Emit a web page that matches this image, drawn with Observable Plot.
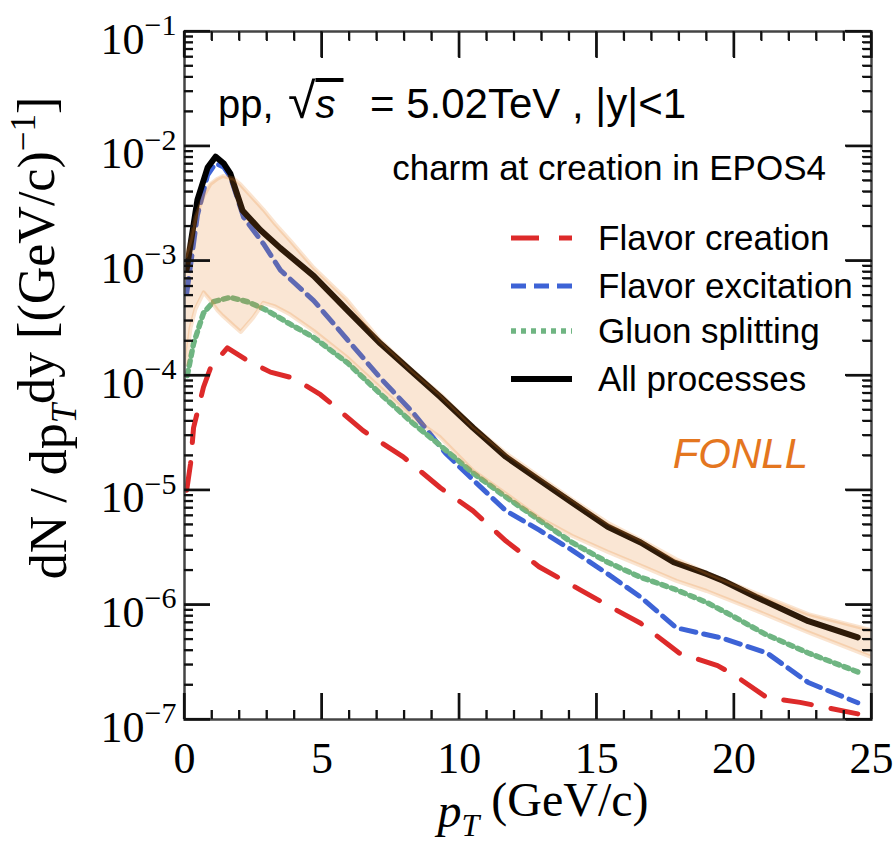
<!DOCTYPE html>
<html><head><meta charset="utf-8">
<script src="https://cdn.jsdelivr.net/npm/d3@7"></script>
<script src="https://cdn.jsdelivr.net/npm/@observablehq/plot@0.6"></script>
<style>
html,body{margin:0;padding:0;background:#fff;overflow:hidden;}
#chart{width:894px;height:849px;position:relative;}
</style></head><body><div id="chart"></div>
<script>
// ---- data ----
const ptCreation = [0.08, 0.22, 0.33, 0.69, 0.95, 1.56, 2.29, 3.13, 3.96, 4.95, 5.3, 6.5, 7.96, 9.31, 10.5, 11.7, 12.9, 14.4, 15.9, 16.6, 17.6, 18.0, 19.4, 20.0, 21.2, 22.4, 24.5];
const valCreation = [1.0e-5, 1.7e-5, 3.5e-5, 7.9e-5, 1.17e-4, 1.74e-4, 1.35e-4, 1.07e-4, 9.5e-5, 6.8e-5, 5.8e-5, 3.3e-5, 1.95e-5, 1.05e-5, 6.6e-6, 3.6e-6, 2.15e-6, 1.35e-6, 8.5e-7, 6.9e-7, 4.5e-7, 3.8e-7, 2.95e-7, 2.45e-7, 1.55e-7, 1.41e-7, 1.12e-7];

const ptExcitation = [0.08, 0.47, 0.84, 1.13, 1.42, 1.67, 2.15, 2.87, 3.49, 4.7, 5.93, 7.13, 8.33, 9.5, 10.5, 11.7, 12.9, 14.1, 15.4, 16.6, 17.9, 19.6, 21.2, 22.7, 24.5];
const valExcitation = [5.2e-4, 2.5e-3, 5.6e-3, 7.1e-3, 6.6e-3, 5.4e-3, 2.4e-3, 1.41e-3, 8.3e-4, 4.5e-4, 2.05e-4, 9.5e-5, 4.7e-5, 2.1e-5, 1.23e-5, 6.6e-6, 4.5e-6, 3.0e-6, 1.86e-6, 1.17e-6, 6.3e-7, 5.1e-7, 3.8e-7, 2.1e-7, 1.4e-7];

const ptSplitting = [0.1, 0.33, 0.69, 1.05, 1.67, 2.29, 3.0, 3.85, 4.7, 5.93, 7.13, 8.33, 9.31, 10.5, 11.7, 12.9, 14.1, 15.4, 16.6, 17.8, 19.0, 19.9, 21.1, 22.7, 24.5];
const valSplitting = [1.0e-4, 1.9e-4, 3.5e-4, 4.4e-4, 4.8e-4, 4.4e-4, 3.7e-4, 2.8e-4, 2.15e-4, 1.29e-4, 6.9e-5, 3.8e-5, 2.45e-5, 1.41e-5, 8.7e-6, 5.5e-6, 3.5e-6, 2.35e-6, 1.74e-6, 1.38e-6, 1.05e-6, 8.1e-7, 5.6e-7, 3.8e-7, 2.6e-7];

const ptAll = [0.08, 0.47, 0.84, 1.13, 1.42, 1.67, 2.11, 2.76, 3.49, 4.7, 5.93, 7.13, 8.33, 9.31, 10.5, 11.7, 12.9, 14.1, 15.4, 16.6, 17.8, 19.0, 19.6, 20.8, 22.7, 24.5];
const valAll = [8.5e-4, 3.4e-3, 6.5e-3, 8.1e-3, 7.1e-3, 5.75e-3, 2.75e-3, 1.86e-3, 1.29e-3, 7.4e-4, 3.7e-4, 1.9e-4, 1.05e-4, 6.5e-5, 3.5e-5, 1.95e-5, 1.23e-5, 7.8e-6, 4.8e-6, 3.5e-6, 2.35e-6, 1.86e-6, 1.62e-6, 1.17e-6, 7.2e-7, 5.2e-7];

const ptFonll = [0.05, 0.22, 0.4, 0.7, 0.95, 1.2, 1.4, 1.8, 2.05, 2.5, 2.87, 3.3, 3.85, 4.7, 5.9, 7.1, 8.3, 9.3, 10.5, 11.7, 12.9, 14.1, 15.4, 16.6, 17.9, 19.0, 20.8, 22.7, 25];
const fonllHigh = [1.1e-3, 1.5e-3, 2.4e-3, 3.7e-3, 4.7e-3, 5.2e-3, 5.5e-3, 5.2e-3, 4.6e-3, 3.5e-3, 2.8e-3, 2.1e-3, 1.5e-3, 8.7e-4, 4.6e-4, 2.05e-4, 1.1e-4, 6.9e-5, 3.6e-5, 2.1e-5, 1.32e-5, 8.3e-6, 5.2e-6, 3.7e-6, 2.5e-6, 1.9e-6, 1.26e-6, 8.3e-7, 6.0e-7];
const fonllLow = [1.26e-4, 2.6e-4, 3.8e-4, 5.3e-4, 4.5e-4, 3.7e-4, 3.3e-4, 2.7e-4, 2.4e-4, 3.2e-4, 4.3e-4, 4.0e-4, 3.4e-4, 2.45e-4, 1.45e-4, 7.9e-5, 4.3e-5, 2.9e-5, 1.48e-5, 9.3e-6, 5.75e-6, 4.0e-6, 2.9e-6, 2.2e-6, 1.62e-6, 1.32e-6, 8.9e-7, 5.75e-7, 3.5e-7];

const xTicks = [0, 5, 10, 15, 20, 25];
const yTicks = [1e-7, 1e-6, 1e-5, 1e-4, 1e-3, 1e-2, 1e-1];
const seriesNames = ["Flavor creation", "Flavor excitation", "Gluon splitting", "All processes"];

// ---- build tables ----
const rows = (xs, ys) => xs.map((x, i) => ({x, y: ys[i]}));
const creation = rows(ptCreation, valCreation);
const excitation = rows(ptExcitation, valExcitation);
const splitting = rows(ptSplitting, valSplitting);
const all = rows(ptAll, valAll);
const fonll = ptFonll.map((x, i) => ({x, lo: fonllLow[i], hi: fonllHigh[i]}));
const xMinor = d3.range(0, 26, 1).filter(v => v % 5 !== 0);
const yMinor = yTicks.slice(0, -1).flatMap(d => [2,3,4,5,6,7,8,9].map(k => d * k));

const W = 894, H = 849, mL = 184, mR = 23, mT = 31, mB = 130;
const RED = "#dd2a2a", BLUE = "#3d63d6", GREEN = "#6fb582", ORANGE = "#e68228";
const serif = "'Liberation Serif','Times New Roman',Times,serif";
const sans = "'Liberation Sans',Arial,Helvetica,sans-serif";
const styles = [
  {stroke: RED, dash: "28,20", w: 5},
  {stroke: BLUE, dash: "15,8", w: 5},
  {stroke: GREEN, dash: "5,5", w: 5.5},
  {stroke: "#000", dash: null, w: 6}
];
const MAJ = 26, MIN = 9;
const tk = {stroke: "#111", strokeWidth: 2.2, fill: "none", label: null};
const tm = {stroke: "#111", strokeWidth: 1.8, fill: "none", label: null};

const chart = Plot.plot({
  width: W, height: H,
  marginLeft: mL, marginRight: mR, marginTop: mT, marginBottom: mB,
  style: {fontFamily: serif, background: "#fff", color: "#000", overflow: "visible"},
  x: {domain: [0, 25]},
  y: {type: "log", domain: [1e-7, 1e-1]},
  marks: [
    Plot.line(creation, {x: "x", y: "y", stroke: RED, strokeWidth: styles[0].w, strokeDasharray: styles[0].dash, clip: true}),
    Plot.line(excitation, {x: "x", y: "y", stroke: BLUE, strokeWidth: styles[1].w, strokeDasharray: styles[1].dash, clip: true}),
    Plot.line(splitting, {x: "x", y: "y", stroke: GREEN, strokeWidth: styles[2].w, strokeDasharray: styles[2].dash, clip: true}),
    Plot.line(all, {x: "x", y: "y", stroke: "#000", strokeWidth: styles[3].w, clip: true}),
    Plot.areaY(fonll, {x: "x", y1: "lo", y2: "hi", fill: ORANGE, fillOpacity: 0.2, clip: true}),
    Plot.line(fonll, {x: "x", y: "hi", stroke: ORANGE, strokeOpacity: 0.22, strokeWidth: 4, clip: true}),
    Plot.line(fonll, {x: "x", y: "lo", stroke: ORANGE, strokeOpacity: 0.22, strokeWidth: 4, clip: true}),
    Plot.frame({stroke: "#444", strokeWidth: 2.5}),
    // inward ticks on all four sides (negative tick size points into the frame)
    Plot.axisY({anchor: "left", ticks: yTicks, tickSize: -MAJ, ...tk}),
    Plot.axisY({anchor: "right", ticks: yTicks, tickSize: -MAJ, ...tk}),
    Plot.axisY({anchor: "left", ticks: yMinor, tickSize: -MIN, ...tm}),
    Plot.axisY({anchor: "right", ticks: yMinor, tickSize: -MIN, ...tm}),
    Plot.axisX({anchor: "bottom", ticks: xTicks, tickSize: -MAJ, ...tk}),
    Plot.axisX({anchor: "top", ticks: xTicks, tickSize: -MAJ, ...tk}),
    Plot.axisX({anchor: "bottom", ticks: xMinor, tickSize: -MIN, ...tm}),
    Plot.axisX({anchor: "top", ticks: xMinor, tickSize: -MIN, ...tm}),
    // tick labels
    Plot.axisX({anchor: "bottom", ticks: xTicks, tickSize: 0, tickPadding: 22, fontSize: 44, label: null, tickFormat: d => String(d)}),
    Plot.axisY({anchor: "left", ticks: yTicks, tickSize: 0, tickPadding: 8, fontSize: 44, label: null, dy: 8,
      tickFormat: d => "10|\u2212" + Math.round(-Math.log10(d))})
  ]
});
document.getElementById("chart").appendChild(chart);

const svg = d3.select(chart);
// superscript exponents on y tick labels
svg.selectAll("[aria-label='y-axis tick label'] text").each(function() {
  const t = d3.select(this);
  const s = t.text();
  if (s.indexOf("|") < 0) return;
  const [base, exp] = s.split("|");
  t.text(null);
  t.append("tspan").text(base);
  t.append("tspan").attr("dy", "-0.62em").style("font-size", "30px").text(exp);
});

// the same inward ticks, also as explicit lines placed with the plot's own scales
const sx = chart.scale("x"), sy = chart.scale("y");
const X0 = sx.apply(0), X1 = sx.apply(25), Y0 = sy.apply(1e-7), Y1 = sy.apply(1e-1);
const tg = svg.append("g").attr("aria-label", "inward ticks");
const seg = (x1, y1, x2, y2, w) => tg.append("line")
  .attr("x1", x1).attr("y1", y1).attr("x2", x2).attr("y2", y2)
  .attr("stroke", "#111").attr("stroke-width", w);
yTicks.forEach(v => { const y = sy.apply(v); seg(X0, y, X0 + MAJ, y, 2.2); seg(X1, y, X1 - MAJ, y, 2.2); });
yMinor.forEach(v => { const y = sy.apply(v); seg(X0, y, X0 + MIN, y, 1.8); seg(X1, y, X1 - MIN, y, 1.8); });
xTicks.forEach(v => { const x = sx.apply(v); seg(x, Y0, x, Y0 - MAJ, 2.2); seg(x, Y1, x, Y1 + MAJ, 2.2); });
xMinor.forEach(v => { const x = sx.apply(v); seg(x, Y0, x, Y0 - MIN, 1.8); seg(x, Y1, x, Y1 + MIN, 1.8); });

// y-axis title
const yt = svg.append("text")
  .attr("transform", "translate(66,338) rotate(-90)")
  .attr("text-anchor", "middle")
  .style("font-family", serif).style("font-size", "52px").attr("fill", "#000");
yt.append("tspan").text("dN / dp");
yt.append("tspan").attr("dy", "0.28em").style("font-size", "35px").style("font-style", "italic").text("T");
yt.append("tspan").attr("dy", "-0.42em").text("dy [(GeV/c)");
yt.append("tspan").attr("dy", "-0.55em").style("font-size", "35px").text("\u22121");
yt.append("tspan").attr("dy", "0.37em").text("]");

// x-axis title
const xt = svg.append("text")
  .attr("x", 543).attr("y", 827).attr("text-anchor", "middle")
  .style("font-family", serif).style("font-size", "48px").attr("fill", "#000");
xt.append("tspan").style("font-style", "italic").text("p");
xt.append("tspan").attr("dy", "0.28em").style("font-size", "32px").style("font-style", "italic").text("T");
xt.append("tspan").attr("dy", "-0.42em").text(" (GeV/c)");

// annotations
svg.append("text").attr("x", 218).attr("y", 118).attr("text-anchor", "start")
  .style("font-family", sans).style("font-size", "40px").attr("fill", "#000").text("pp,");
const rad = svg.append("text").attr("x", 288).attr("y", 118).attr("text-anchor", "start")
  .style("font-family", sans).style("font-size", "40px").attr("fill", "#000");
rad.append("tspan").style("font-size", "50px").text("\u221A");
rad.append("tspan").style("font-style", "italic").style("text-decoration", "overline").text("s\u2009");
svg.append("text").attr("x", 370).attr("y", 118).attr("text-anchor", "start")
  .style("font-family", sans).style("font-size", "42px").attr("fill", "#000")
  .text("= 5.02TeV , |y|<1");

svg.append("text").attr("x", 826).attr("y", 180).attr("text-anchor", "end")
  .style("font-family", sans).style("font-size", "35px").attr("fill", "#000")
  .text("charm at creation in EPOS4");

svg.append("text").attr("x", 808).attr("y", 468).attr("text-anchor", "end")
  .style("font-family", sans).style("font-size", "42px").style("font-style", "italic")
  .attr("fill", "#e4761f").text("FONLL");

// legend
const legY = [238, 286, 331, 379];
seriesNames.forEach((name, i) => {
  const st = styles[i];
  const ln = svg.append("line").attr("x1", 511).attr("x2", 572).attr("y1", legY[i]).attr("y2", legY[i])
    .attr("stroke", st.stroke).attr("stroke-width", st.w);
  if (st.dash) ln.attr("stroke-dasharray", st.dash);
  svg.append("text").attr("x", 598).attr("y", legY[i] + 12).attr("text-anchor", "start")
    .style("font-family", sans).style("font-size", "35px").attr("fill", "#000").text(name);
});
</script>
</body></html>
